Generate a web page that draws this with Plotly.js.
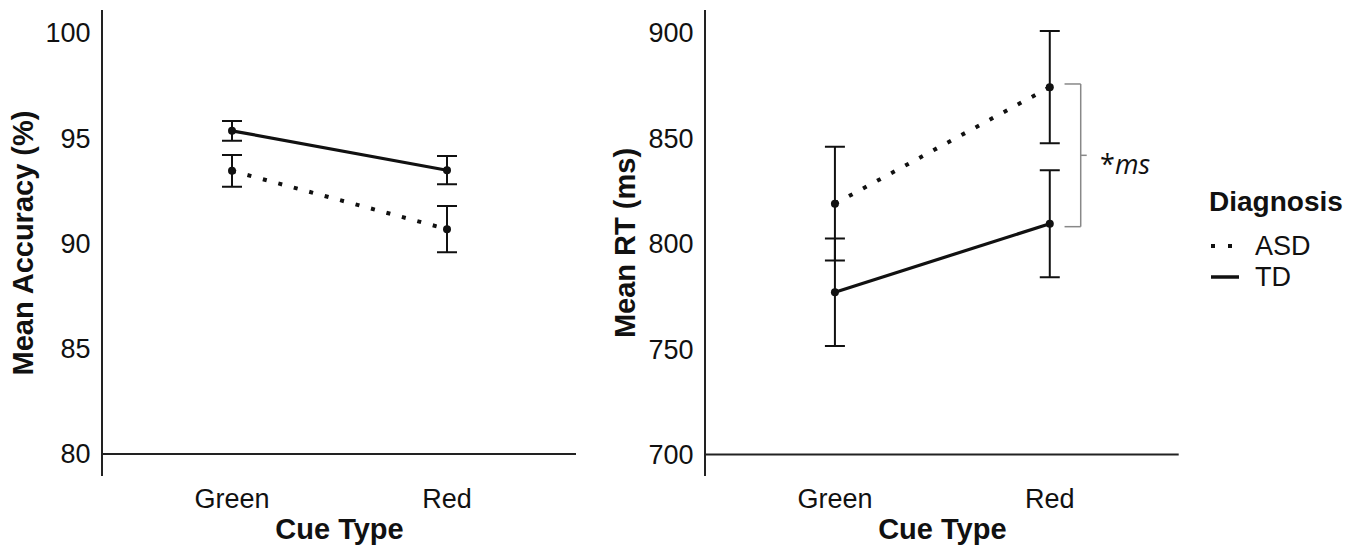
<!DOCTYPE html>
<html>
<head>
<meta charset="utf-8">
<script src="https://cdn.plot.ly/plotly-3.0.1.min.js"></script>
<style>html,body{margin:0;padding:0;background:#fff;}#chart{width:1369px;height:551px;}</style>
</head>
<body>
<div id="chart"></div>
<script>
// ---- data ----
const cueTypes = ["Green", "Red"];
const groups = ["ASD", "TD"];

// Mean accuracy (%) and error (±)
const accASD = [93.45, 90.68];
const accASDerr = [0.75, 1.1];
const accTD = [95.35, 93.48];
const accTDerr = [0.47, 0.67];

// Mean RT (ms) and error (±)
const rtASD = [819, 874.3];
const rtASDerr = [27, 26.6];
const rtTD = [777, 809.5];
const rtTDerr = [25.5, 25.4];

const accTicks = [80, 85, 90, 95, 100];
const rtTicks = [700, 750, 800, 850, 900];

// significance bracket on Red (ms)
const bracketTop = 875.8;
const bracketBottom = 808.1;
const sigLabel = "*<i>ms</i>";

// ---- style ----
const INK = "#111";
const FONT = "Liberation Sans, Arial, sans-serif";
const dotted = {color: INK, width: 4, dash: "4px,12px"};
const solid = {color: INK, width: 3.2};
const errStyle = (arr) => ({type: "data", array: arr, visible: true, color: INK, thickness: 2, width: 10});
const mk = {color: INK, size: 8};

function trace(x, y, err, line, xa, ya, name) {
  return {x: x, y: y, type: "scatter", mode: "lines+markers", name: name,
    line: line, marker: mk, error_y: errStyle(err), xaxis: xa, yaxis: ya,
    showlegend: false, cliponaxis: false};
}

const data = [
  trace(cueTypes, accASD, accASDerr, dotted, "x", "y", groups[0]),
  trace(cueTypes, accTD, accTDerr, solid, "x", "y", groups[1]),
  trace(cueTypes, rtASD, rtASDerr, dotted, "x2", "y2", groups[0]),
  trace(cueTypes, rtTD, rtTDerr, solid, "x2", "y2", groups[1])
];

const W = 1369, H = 551;
const px = v => v / W;
const py = v => 1 - v / H;
const yDom = [py(476), py(10)];

const xBase = {
  type: "category", categoryorder: "array", categoryarray: cueTypes,
  range: [-0.6, 1.6], showline: false, showgrid: false, zeroline: false,
  ticks: "", tickfont: {family: FONT, size: 27, color: INK},
  ticklabelstandoff: 4,
  title: {text: "<b>Cue Type</b>", font: {family: FONT, size: 29, color: INK}, standoff: 5},
  fixedrange: true
};
const yBase = {
  showline: true, linecolor: "#222", linewidth: 2, showgrid: false, zeroline: false,
  ticks: "", tickfont: {family: FONT, size: 27, color: INK}, ticklabelstandoff: 5,
  fixedrange: true
};

const layout = {
  width: W, height: H,
  margin: {l: 0, r: 0, t: 0, b: 0},
  paper_bgcolor: "#fff", plot_bgcolor: "#fff",
  font: {family: FONT, color: INK},
  showlegend: false,
  xaxis: Object.assign({}, xBase, {domain: [px(103), px(576)], anchor: "y"}),
  yaxis: Object.assign({}, yBase, {domain: yDom, anchor: "x", range: [78.955, 101.09], tickvals: accTicks,
    title: {text: "<b>Mean Accuracy (%)</b>", font: {family: FONT, size: 29, color: INK}, standoff: 3}}),
  xaxis2: Object.assign({}, xBase, {domain: [px(706), px(1178.7)], anchor: "y2"}),
  yaxis2: Object.assign({}, yBase, {domain: yDom, anchor: "x2", range: [689.8, 910.9], tickvals: rtTicks,
    title: {text: "<b>Mean RT (ms)</b>", font: {family: FONT, size: 29, color: INK}, standoff: 4}}),
  shapes: [
    // baseline x-axis lines at the lowest y tick
    {type: "line", xref: "x domain", yref: "y", x0: 0, x1: 1, y0: accTicks[0], y1: accTicks[0], line: {color: "#222", width: 2}},
    {type: "line", xref: "x2 domain", yref: "y2", x0: 0, x1: 1, y0: rtTicks[0], y1: rtTicks[0], line: {color: "#222", width: 2}},
    // significance bracket
    {type: "line", xref: "x2 domain", yref: "y2", x0: 0.7927, x1: 0.7927, y0: bracketBottom, y1: bracketTop, line: {color: "#888", width: 1.5}},
    {type: "line", xref: "x2 domain", yref: "y2", x0: 0.7585, x1: 0.7927, y0: bracketTop, y1: bracketTop, line: {color: "#888", width: 1.5}},
    {type: "line", xref: "x2 domain", yref: "y2", x0: 0.7585, x1: 0.7927, y0: bracketBottom, y1: bracketBottom, line: {color: "#888", width: 1.5}},
    {type: "line", xref: "x2 domain", yref: "y2", x0: 0.7927, x1: 0.8054, y0: (bracketTop + bracketBottom) / 2, y1: (bracketTop + bracketBottom) / 2, line: {color: "#888", width: 1.5}},
    // legend keys
    {type: "line", xref: "paper", yref: "paper", x0: px(1211), x1: px(1236), y0: py(246), y1: py(246), line: {color: INK, width: 4, dash: "4px,13px"}},
    {type: "line", xref: "paper", yref: "paper", x0: px(1211), x1: px(1239), y0: py(277), y1: py(277), line: {color: INK, width: 3.5}}
  ],
  annotations: [
    {xref: "paper", yref: "paper", x: px(1098), y: py(163), xanchor: "left", yanchor: "middle", showarrow: false,
      text: sigLabel, font: {family: "Open Sans, sans-serif", size: 27, color: INK}},
    {xref: "paper", yref: "paper", x: px(1207), y: py(201), xanchor: "left", yanchor: "middle", showarrow: false,
      text: "<b>Diagnosis</b>", font: {family: FONT, size: 28, color: INK}},
    {xref: "paper", yref: "paper", x: px(1253), y: py(246), xanchor: "left", yanchor: "middle", showarrow: false,
      text: groups[0], font: {family: FONT, size: 27, color: INK}},
    {xref: "paper", yref: "paper", x: px(1253), y: py(277), xanchor: "left", yanchor: "middle", showarrow: false,
      text: groups[1], font: {family: FONT, size: 27, color: INK}}
  ]
};

Plotly.newPlot("chart", data, layout, {displayModeBar: false, staticPlot: true});
</script>
</body>
</html>
